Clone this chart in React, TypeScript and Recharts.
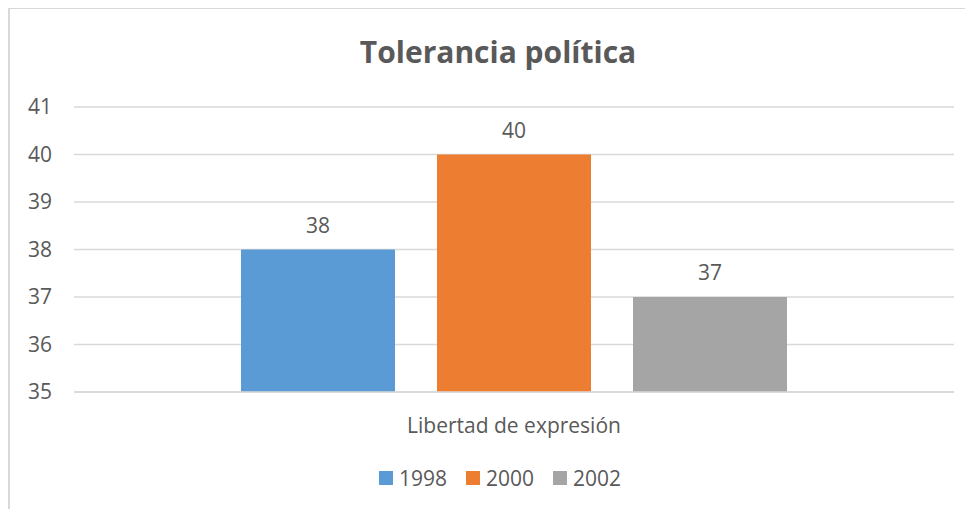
import { Bar, BarChart, CartesianGrid, LabelList, Legend, XAxis, YAxis } from "recharts";

const categories = ["Libertad de expresión"];
const values1998 = [38];
const values2000 = [40];
const values2002 = [37];
const yTicks = [35, 36, 37, 38, 39, 40, 41];

const series = [
  { key: "y1998", name: "1998", color: "#5B9BD5" },
  { key: "y2000", name: "2000", color: "#ED7D31" },
  { key: "y2002", name: "2002", color: "#A5A5A5" },
];

const data = categories.map((name, i) => ({
  name,
  y1998: values1998[i],
  y2000: values2000[i],
  y2002: values2002[i],
}));

const FONT = "'Open Sans', sans-serif";
const TEXT = "#595959";

function LegendContent() {
  return (
    <div style={{ display: "flex", justifyContent: "center", fontFamily: FONT, fontSize: 21, color: TEXT }}>
      {series.map((s, i) => (
        <div
          key={s.key}
          style={{ display: "flex", alignItems: "center", marginRight: i < series.length - 1 ? 19 : 0 }}
        >
          <span style={{ width: 14, height: 14, background: s.color, display: "inline-block", marginRight: 6 }} />
          <span>{s.name}</span>
        </div>
      ))}
    </div>
  );
}

export default function App() {
  return (
    <div
      style={{
        position: "relative",
        width: 965,
        height: 502,
        borderTop: "2px solid #d9d9d9",
        borderLeft: "2px solid #d9d9d9",
        boxSizing: "border-box",
        marginTop: -1,
        background: "#fff",
      }}
    >
      <div
        style={{
          position: "absolute",
          top: 22,
          left: 0,
          width: 976,
          textAlign: "center",
          fontFamily: FONT,
          fontWeight: 700,
          fontSize: 30,
          color: TEXT,
        }}
      >
        Tolerancia política
      </div>
      <BarChart
        width={963}
        height={500}
        data={data}
        margin={{ top: 98, right: 19, left: 0, bottom: 17 }}
        barSize={154}
        barGap={42}
      >
        <CartesianGrid vertical={false} stroke="#d9d9d9" strokeWidth={1.5} />
        <XAxis
          dataKey="name"
          axisLine={{ stroke: "#d9d9d9", strokeWidth: 1.5 }}
          tickLine={false}
          tickSize={0}
          tickMargin={26}
          height={72}
          tick={{ fill: TEXT, fontSize: 21, fontFamily: FONT }}
        />
        <YAxis
          domain={[35, 41]}
          ticks={yTicks}
          axisLine={false}
          tickLine={false}
          tickSize={0}
          tickMargin={22}
          width={64}
          tick={{ fill: TEXT, fontSize: 21, fontFamily: FONT }}
        />
        <Legend
          verticalAlign="bottom"
          wrapperStyle={{ left: 0, width: 980 }}
          content={<LegendContent />}
        />
        {series.map((s) => (
          <Bar key={s.key} dataKey={s.key} name={s.name} fill={s.color} isAnimationActive={false}>
            <LabelList
              dataKey={s.key}
              position="top"
              offset={17}
              style={{ fill: TEXT, fontSize: 21, fontFamily: FONT }}
            />
          </Bar>
        ))}
      </BarChart>
    </div>
  );
}
